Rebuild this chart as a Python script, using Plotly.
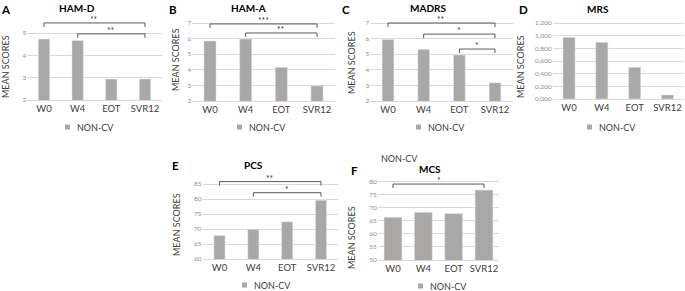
import plotly.graph_objects as go

W, H = 685, 291

# ---------------- data ----------------
categories = ["W0", "W4", "EOT", "SVR12"]
ham_d = [4.73, 4.66, 2.94, 2.94]
ham_a = [5.85, 5.97, 4.16, 2.97]
madrs = [5.95, 5.31, 4.95, 3.17]
mrs = [0.974, 0.895, 0.50, 0.065]
pcs = [67.8, 69.9, 72.4, 79.6]
mcs = [66.4, 68.3, 67.8, 76.8]

ham_d_ticks = [2, 3, 4, 5]
ham_a_ticks = [2, 3, 4, 5, 6, 7]
madrs_ticks = [2, 3, 4, 5, 6, 7]
mrs_ticks = [0.0, 0.2, 0.4, 0.6, 0.8, 1.0, 1.2]
mrs_ticktext = ["0,000", "0,200", "0,400", "0,600", "0,800", "1,000", "1,200"]
pcs_ticks = [60, 65, 70, 75, 80, 85]
mcs_ticks = [50, 55, 60, 65, 70, 75, 80]

# significance: (from category, to category, label)
ham_d_sig = [(0, 3, "**"), (1, 3, "**")]
ham_a_sig = [(0, 3, "***"), (1, 3, "**")]
madrs_sig = [(0, 3, "**"), (1, 3, "*"), (2, 3, "*")]
mrs_sig = []
pcs_sig = [(0, 3, "**"), (1, 3, "*")]
mcs_sig = [(0, 3, "*")]

series_name = "NON-CV"

# ---------------- layout / style ----------------
BAR = "#AAA7A7"
GRID = "#D9D9D9"
FONT = "Lato, Open Sans, sans-serif"

panels = [
    dict(letter="A", title="HAM-D", vals=ham_d, ticks=ham_d_ticks, ticktext=None, sig=ham_d_sig,
         c0=44, c3=145, base_px=100, top_px=33, top_val=5, plot_top=12, bw=0.34,
         levels=[5.45, 4.96], title_xy=(77, 8), letter_xy=(6, 10), ytitle_xy=(6, 67),
         legend_xy=(67.5, 127)),
    dict(letter="B", title="HAM-A", vals=ham_a, ticks=ham_a_ticks, ticktext=None, sig=ham_a_sig,
         c0=210, c3=317, base_px=101, top_px=23, top_val=7, plot_top=12, bw=0.34,
         levels=[6.94, 6.36], title_xy=(248, 8), letter_xy=(172.5, 10), ytitle_xy=(176, 60),
         legend_xy=(239.5, 127)),
    dict(letter="C", title="MADRS", vals=madrs, ticks=madrs_ticks, ticktext=None, sig=madrs_sig,
         c0=388, c3=495, base_px=101, top_px=23, top_val=7, plot_top=12, bw=0.33,
         levels=[7.0, 6.29, 5.33], title_xy=(428, 8), letter_xy=(346, 10), ytitle_xy=(351, 63),
         legend_xy=(418.5, 127)),
    dict(letter="D", title="MRS", vals=mrs, ticks=mrs_ticks, ticktext=mrs_ticktext, sig=mrs_sig,
         c0=569, c3=667.5, base_px=99, top_px=23, top_val=1.2, plot_top=14, bw=0.37,
         levels=[], title_xy=(598, 9), letter_xy=(523, 10), ytitle_xy=(521, 67),
         legend_xy=(589.5, 127)),
    dict(letter="E", title="PCS", vals=pcs, ticks=pcs_ticks, ticktext=None, sig=pcs_sig,
         c0=219.5, c3=321, base_px=259, top_px=184, top_val=85, plot_top=172, bw=0.33,
         levels=[85.8, 82.1], title_xy=(253, 165), letter_xy=(175.5, 165), ytitle_xy=(176, 225),
         legend_xy=(244.5, 285)),
    dict(letter="F", title="MCS", vals=mcs, ticks=mcs_ticks, ticktext=None, sig=mcs_sig,
         c0=393, c3=484, base_px=260, top_px=181.7, top_val=80, plot_top=174, bw=0.59,
         levels=[79.1], title_xy=(430, 169), letter_xy=(354.5, 170), ytitle_xy=(351, 238),
         legend_xy=(420.5, 286)),
]

fig = go.Figure()
annotations = []
shapes = []


def px_x(x):
    return x / W


def px_y(y):
    return 1 - y / H


for i, p in enumerate(panels):
    n = i + 1
    xa = "x" if n == 1 else f"x{n}"
    ya = "y" if n == 1 else f"y{n}"
    base_val = p["ticks"][0]
    k = (p["base_px"] - p["top_px"]) / (p["top_val"] - base_val)
    ymax = base_val + (p["base_px"] - p["plot_top"]) / k
    s = (p["c3"] - p["c0"]) / 3
    xdom = [px_x(p["c0"] - s / 2), px_x(p["c3"] + s / 2)]
    ydom = [px_y(p["base_px"]), px_y(p["plot_top"])]

    fig.add_trace(go.Bar(x=categories, y=p["vals"], marker_color=BAR,
                         width=p["bw"], xaxis=xa, yaxis=ya, showlegend=False,
                         hoverinfo="x+y"))

    xkey = "xaxis" if n == 1 else f"xaxis{n}"
    ykey = "yaxis" if n == 1 else f"yaxis{n}"
    fig.layout[xkey] = dict(domain=xdom, anchor=ya, type="category", range=[-0.5, 3.5],
                            automargin=False,
                            showgrid=False, showline=True, linecolor=GRID, linewidth=1,
                            ticks="", tickfont=dict(family=FONT, size=9.5, color="#404040"),
                            fixedrange=True)
    yaxis = dict(domain=ydom, anchor=xa, range=[base_val, ymax], tickvals=p["ticks"],
                 automargin=False,
                 showgrid=True, gridcolor=GRID, gridwidth=1, zeroline=False,
                 showline=False, ticks="", tickfont=dict(family=FONT, size=6.5, color="#8C8C8C"),
                 fixedrange=True)
    if p["ticktext"] is not None:
        yaxis["ticktext"] = p["ticktext"]
    fig.layout[ykey] = yaxis

    # panel letter, title, y title
    annotations.append(dict(text=f"<b>{p['letter']}</b>", x=px_x(p["letter_xy"][0]), y=px_y(p["letter_xy"][1]),
                            xref="paper", yref="paper", showarrow=False, xanchor="center", yanchor="middle",
                            font=dict(family=FONT, size=11.5, color="#000000")))
    annotations.append(dict(text=f"<b>{p['title']}</b>", x=px_x(p["title_xy"][0]), y=px_y(p["title_xy"][1]),
                            xref="paper", yref="paper", showarrow=False, xanchor="center", yanchor="middle",
                            font=dict(family=FONT, size=10, color="#000000")))
    annotations.append(dict(text="MEAN SCORES", x=px_x(p["ytitle_xy"][0]), y=px_y(p["ytitle_xy"][1]),
                            xref="paper", yref="paper", showarrow=False, textangle=-90,
                            xanchor="center", yanchor="middle",
                            font=dict(family=FONT, size=9, color="#404040")))
    # legend
    lx, ly = p["legend_xy"]
    shapes.append(dict(type="rect", xref="paper", yref="paper",
                       x0=px_x(lx - 2.5), x1=px_x(lx + 2.5), y0=px_y(ly + 2.5), y1=px_y(ly - 2.5),
                       fillcolor=BAR, line=dict(width=0)))
    annotations.append(dict(text=series_name, x=px_x(lx + 7), y=px_y(ly), xref="paper", yref="paper",
                            showarrow=False, xanchor="left", yanchor="middle",
                            font=dict(family=FONT, size=9, color="#404040")))

    # significance brackets
    tick = 4 / k
    for (a, b, lab), lev in zip(p["sig"], p["levels"]):
        shapes.append(dict(type="path", xref=xa, yref=ya,
                           path=f"M {a},{lev - tick} L {a},{lev} L {b},{lev} L {b},{lev - tick}",
                           line=dict(color="#595959", width=1)))
        annotations.append(dict(text=lab, x=(a + b) / 2, y=lev, xref=xa, yref=ya,
                                showarrow=False, xanchor="center", yanchor="bottom", yshift=-4,
                                font=dict(family=FONT, size=8.5, color="#404040")))

# stray label above panel F
annotations.append(dict(text=series_name, x=px_x(399), y=px_y(158), xref="paper", yref="paper",
                        showarrow=False, xanchor="center", yanchor="middle",
                        font=dict(family=FONT, size=9, color="#404040")))

fig.update_layout(width=W, height=H, margin=dict(l=0, r=0, t=0, b=0),
                  paper_bgcolor="white", plot_bgcolor="white",
                  annotations=annotations, shapes=shapes, bargap=0.5,
                  font=dict(family=FONT))

fig.write_html("out.html", config={"displayModeBar": False},
               post_script="document.body.style.margin='0';document.body.style.padding='0';")
